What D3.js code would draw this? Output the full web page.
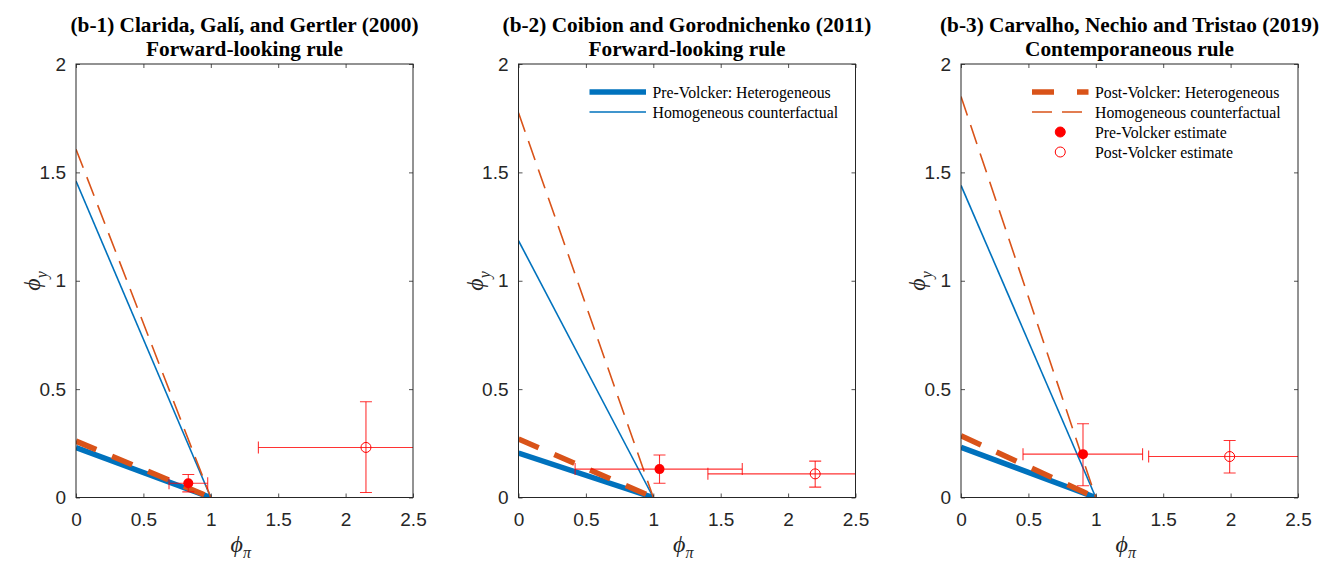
<!DOCTYPE html>
<html>
<head>
<meta charset="utf-8">
<script src="https://cdn.jsdelivr.net/npm/d3@7"></script>
<style>
  body { margin: 0; background: #fff; }
  svg { display: block; }
  .tick text { font-family: "Liberation Sans", Arial, sans-serif; font-size: 19px; fill: #262626; }
  .title { font-family: "Liberation Serif", "Times New Roman", serif; font-weight: bold; font-size: 21.3px; fill: #000; }
  .legend text { font-family: "Liberation Serif", "Times New Roman", serif; font-size: 15.8px; fill: #000; }
  .lab { font-family: "Liberation Serif", "Times New Roman", serif; font-style: italic; fill: #262626; }
</style>
</head>
<body>
<div class="chart"></div>
<script>
// Panel titles
const titles = [
  '(b-1) Clarida, Galí, and Gertler (2000)',
  '(b-2) Coibion and Gorodnichenko (2011)',
  '(b-3) Carvalho, Nechio and Tristao (2019)',
];
const subtitles = ['Forward-looking rule', 'Forward-looking rule', 'Contemporaneous rule'];

// Determinacy frontiers: phi_y intercept at phi_pi = 0, all reach 0 at phi_pi = 1
const preHetero = [0.23, 0.205, 0.232];
const postHetero = [0.26, 0.27, 0.285];
const preHomo = [1.46, 1.185, 1.44];
const postHomo = [1.607, 1.775, 1.85];
const frontierEnd = 1;

// Pre-Volcker estimates (phi_pi, phi_y) with error ranges
const preX = [0.833, 1.046, 0.905];
const preY = [0.066, 0.131, 0.2];
const preXLo = [0.69, 0.42, 0.46];
const preXHi = [0.977, 1.66, 1.347];
const preYLo = [0.026, 0.066, 0.054];
const preYHi = [0.106, 0.196, 0.34];

// Post-Volcker estimates
const postX = [2.151, 2.201, 1.993];
const postY = [0.231, 0.109, 0.189];
const postXLo = [1.353, 1.405, 1.392];
const postXHi = [2.95, 3.0, 2.6];
const postYLo = [0.023, 0.048, 0.113];
const postYHi = [0.442, 0.168, 0.263];

// Ticks
const xTicks = [0, 0.5, 1, 1.5, 2, 2.5];
const yTicks = [0, 0.5, 1, 1.5, 2];

const width = 1320;
const height = 561;
const panelLeft = [76, 518.5, 961];
const panelW = 337;
const plotTop = 64;
const plotBottom = 497.5;

const blue = '#0072BD';
const orange = '#D95319';
const red = '#FF0000';
const axisColor = '#262626';

const svg = d3.select('.chart')
  .append('svg')
  .attr('width', width)
  .attr('height', height);

const legends = [
  [],
  [
    { label: 'Pre-Volcker: Heterogeneous', type: 'line', color: blue, w: 5.5, dash: null },
    { label: 'Homogeneous counterfactual', type: 'line', color: blue, w: 1.6, dash: null },
  ],
  [
    { label: 'Post-Volcker: Heterogeneous', type: 'line', color: orange, w: 5.5, dash: '22,23' },
    { label: 'Homogeneous counterfactual', type: 'line', color: orange, w: 1.6, dash: '20,10' },
    { label: 'Pre-Volcker estimate', type: 'dot', fill: true },
    { label: 'Post-Volcker estimate', type: 'dot', fill: false },
  ],
];

titles.forEach((title, i) => {
  const left = panelLeft[i];
  const x = d3.scaleLinear().domain([0, 2.5]).range([left, left + panelW]);
  const y = d3.scaleLinear().domain([0, 2]).range([plotBottom, plotTop]);
  const g = svg.append('g');

  g.append('clipPath').attr('id', `clip${i}`)
    .append('rect')
    .attr('x', left).attr('y', plotTop)
    .attr('width', panelW).attr('height', plotBottom - plotTop);

  const plot = g.append('g').attr('clip-path', `url(#clip${i})`);
  const line = d3.line().x(d => x(d[0])).y(d => y(d[1]));
  const frontier = a => [[0, a], [frontierEnd, 0]];

  // Frontier lines
  plot.append('path').attr('d', line(frontier(preHetero[i])))
    .attr('fill', 'none').attr('stroke', blue).attr('stroke-width', 5.5);
  plot.append('path').attr('d', line(frontier(preHomo[i])))
    .attr('fill', 'none').attr('stroke', blue).attr('stroke-width', 1.6);
  plot.append('path').attr('d', line(frontier(postHetero[i])))
    .attr('fill', 'none').attr('stroke', orange).attr('stroke-width', 5.5)
    .attr('stroke-dasharray', '22,17');
  plot.append('path').attr('d', line(frontier(postHomo[i])))
    .attr('fill', 'none').attr('stroke', orange).attr('stroke-width', 1.6)
    .attr('stroke-dasharray', '20,10');

  // Error bars
  const errorBar = (cx, cy, xlo, xhi, ylo, yhi) => {
    const eb = plot.append('g').attr('stroke', red).attr('stroke-width', 1.1)
      .attr('stroke-opacity', 0.8).attr('fill', 'none');
    eb.append('line').attr('x1', x(xlo)).attr('x2', x(xhi)).attr('y1', y(cy)).attr('y2', y(cy));
    eb.append('line').attr('x1', x(cx)).attr('x2', x(cx)).attr('y1', y(ylo)).attr('y2', y(yhi));
    [xlo, xhi].forEach(v => eb.append('line')
      .attr('x1', x(v)).attr('x2', x(v)).attr('y1', y(cy) - 6).attr('y2', y(cy) + 6));
    [ylo, yhi].forEach(v => eb.append('line')
      .attr('x1', x(cx) - 6).attr('x2', x(cx) + 6).attr('y1', y(v)).attr('y2', y(v)));
  };
  errorBar(preX[i], preY[i], preXLo[i], preXHi[i], preYLo[i], preYHi[i]);
  errorBar(postX[i], postY[i], postXLo[i], postXHi[i], postYLo[i], postYHi[i]);

  plot.append('circle').attr('cx', x(preX[i])).attr('cy', y(preY[i])).attr('r', 5)
    .attr('fill', red);
  plot.append('circle').attr('cx', x(postX[i])).attr('cy', y(postY[i])).attr('r', 5)
    .attr('fill', 'none').attr('stroke', red).attr('stroke-width', 1);

  // Axes (box with inward ticks on all sides)
  const styleAxis = sel => {
    sel.select('.domain').remove();
    sel.selectAll('.tick line').attr('stroke', axisColor).attr('stroke-width', 0.8);
  };
  g.append('g').attr('transform', `translate(0,${plotBottom})`)
    .call(d3.axisBottom(x).tickValues(xTicks).tickSizeInner(-4).tickSizeOuter(0).tickPadding(15).tickFormat(d3.format('')))
    .call(styleAxis);
  g.append('g').attr('transform', `translate(0,${plotTop})`)
    .call(d3.axisTop(x).tickValues(xTicks).tickSizeInner(-4).tickSizeOuter(0).tickFormat(''))
    .call(styleAxis);
  g.append('g').attr('transform', `translate(${left},0)`)
    .call(d3.axisLeft(y).tickValues(yTicks).tickSizeInner(-4).tickSizeOuter(0).tickPadding(10).tickFormat(d3.format('')))
    .call(styleAxis);
  g.append('g').attr('transform', `translate(${left + panelW},0)`)
    .call(d3.axisRight(y).tickValues(yTicks).tickSizeInner(-4).tickSizeOuter(0).tickFormat(''))
    .call(styleAxis);
  g.selectAll('.tick text').attr('fill', axisColor);

  g.append('rect')
    .attr('x', left).attr('y', plotTop)
    .attr('width', panelW).attr('height', plotBottom - plotTop)
    .attr('fill', 'none').attr('stroke', axisColor).attr('stroke-width', 1);

  // Titles
  const cx = left + panelW / 2;
  g.append('text').attr('class', 'title').attr('x', cx).attr('y', 32)
    .attr('text-anchor', 'middle').text(title);
  g.append('text').attr('class', 'title').attr('x', cx).attr('y', 55.5)
    .attr('text-anchor', 'middle').text(subtitles[i]);

  // Axis labels
  const xl = g.append('text').attr('class', 'lab')
    .attr('x', cx - 14).attr('y', 552).attr('font-size', 24);
  xl.append('tspan').text('\u03D5');
  xl.append('tspan').attr('font-size', 16).attr('dy', 6).text('\u03C0');

  const yl = g.append('text').attr('class', 'lab')
    .attr('transform', `translate(${left - 36},${(plotTop + plotBottom) / 2 + 10}) rotate(-90)`)
    .attr('font-size', 24);
  yl.append('tspan').text('\u03D5');
  yl.append('tspan').attr('font-size', 16).attr('dy', 7).text('y');

  // Legend
  const lg = g.append('g').attr('class', 'legend');
  legends[i].forEach((item, k) => {
    const ly = 92 + k * 20;
    const x0 = left + 71;
    const x1 = left + 127.5;
    if (item.type === 'line') {
      lg.append('line').attr('x1', x0).attr('x2', x1).attr('y1', ly).attr('y2', ly)
        .attr('stroke', item.color).attr('stroke-width', item.w)
        .attr('stroke-dasharray', item.dash);
    } else {
      lg.append('circle').attr('cx', (x0 + x1) / 2).attr('cy', ly).attr('r', 5)
        .attr('fill', item.fill ? red : 'none')
        .attr('stroke', red).attr('stroke-width', 1);
    }
    lg.append('text').attr('x', left + 134).attr('y', ly + 5.5).text(item.label);
  });
});
</script>
</body>
</html>
